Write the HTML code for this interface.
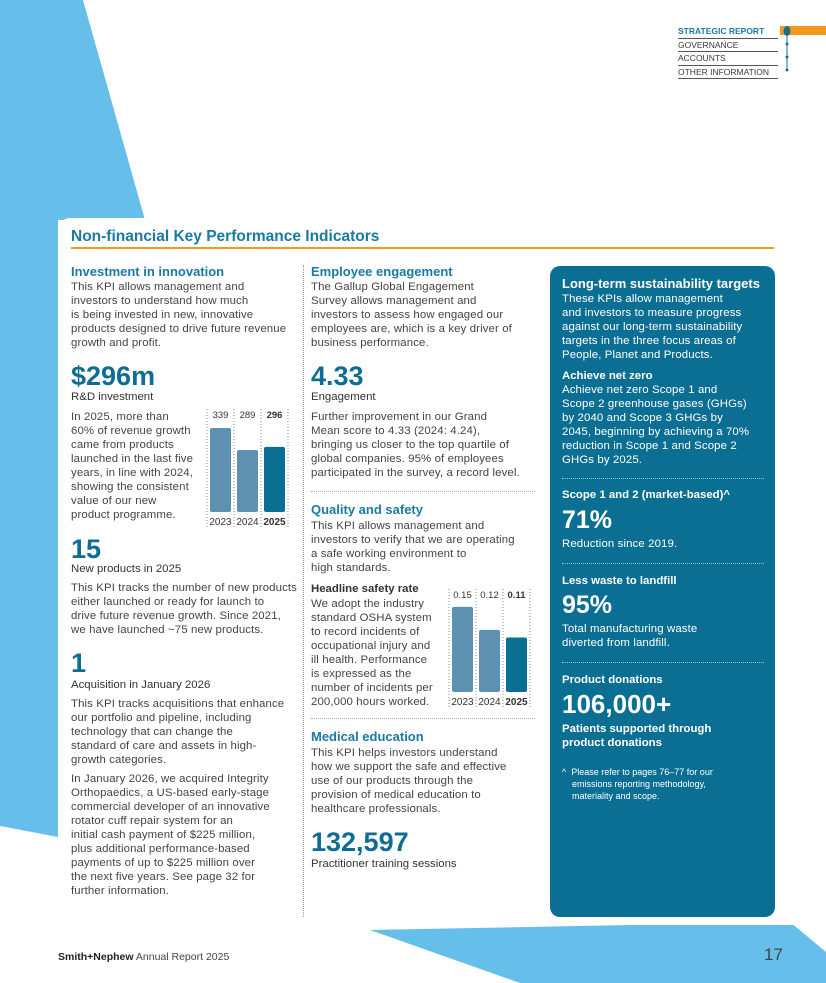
<!DOCTYPE html>
<html><head><meta charset="utf-8">
<style>
*{margin:0;padding:0;box-sizing:border-box}
body{width:826px;height:983px;position:relative;overflow:hidden;background:#fff;font-family:"Liberation Sans",sans-serif;color:#3a3a3a}
.a{position:absolute}
.h{color:#1a7aa3;font-weight:bold;font-size:13px}
.t{font-size:11.4px;line-height:14px;color:#444;letter-spacing:0.12px}
.big{color:#0e6d94;font-weight:bold;font-size:27px;line-height:28px}
.lab{font-size:11.4px;color:#333}
.wb{color:#fff;font-weight:bold;font-size:11.4px}
.dots{border-top:1px dotted #9ab}
</style></head><body>
<svg class="a" style="left:0;top:0" width="826" height="983">
<polygon points="0,0 83,0 145,220 58,220 58,837 0,826" fill="#66bfea"/>
<polygon points="370,930 790,922 826,952 826,983 520,983" fill="#66bfea"/>
<rect x="780" y="26" width="46" height="9" fill="#f39a1e"/>
<line x1="787" y1="31" x2="787" y2="70" stroke="#1a6f91" stroke-width="1"/>
<ellipse cx="787" cy="31" rx="3.5" ry="5" fill="#1a6f91"/>
<circle cx="787" cy="44" r="1.5" fill="#1a6f91"/><circle cx="787" cy="57" r="1.5" fill="#1a6f91"/><circle cx="787" cy="70" r="1.5" fill="#1a6f91"/>
</svg>
<div class="a" style="left:678px;top:25px;width:100px;font-size:8.5px;line-height:12.5px">
<div style="color:#1a7aa3;font-weight:bold;border-bottom:1px solid #555">STRATEGIC REPORT</div>
<div style="border-bottom:1px solid #555">GOVERNANCE</div>
<div style="border-bottom:1px solid #555">ACCOUNTS</div>
<div style="border-bottom:1px solid #555">OTHER INFORMATION</div>
</div>
<div class="a" style="left:58px;top:218px;width:742px;height:707px;background:#fff;border-radius:12px 12px 0 0"></div>
<div class="a" style="left:71px;top:228px;color:#1a7aa3;font-weight:bold;font-size:15.5px">Non-financial Key Performance Indicators</div>
<div class="a" style="left:71px;top:247px;width:703px;height:1.5px;background:#f39a1e"></div>
<div class="a" style="left:303px;top:265px;height:652px;border-left:1px dotted #999"></div>

<!-- column 1 -->
<div class="a h" style="left:71px;top:264px">Investment in innovation</div>
<div class="a t" style="left:71px;top:280px">This KPI allows management and<br>investors to understand how much<br>is being invested in new, innovative<br>products designed to drive future revenue<br>growth and profit.</div>
<div class="a big" style="left:71px;top:362px">$296m</div>
<div class="a lab" style="left:71px;top:391px">R&amp;D investment</div>
<div class="a t" style="left:71px;top:410px">In 2025, more than<br>60% of revenue growth<br>came from products<br>launched in the last five<br>years, in line with 2024,<br>showing the consistent<br>value of our new<br>product programme.</div>
<svg class="a" id="c1" style="left:200px;top:405px" width="100" height="125"></svg>
<div class="a big" style="left:71px;top:535px">15</div>
<div class="a lab" style="left:71px;top:563px">New products in 2025</div>
<div class="a t" style="left:71px;top:581px">This KPI tracks the number of new products<br>either launched or ready for launch to<br>drive future revenue growth. Since 2021,<br>we have launched ~75 new products.</div>
<div class="a big" style="left:71px;top:649px">1</div>
<div class="a lab" style="left:71px;top:679px">Acquisition in January 2026</div>
<div class="a t" style="left:71px;top:697px">This KPI tracks acquisitions that enhance<br>our portfolio and pipeline, including<br>technology that can change the<br>standard of care and assets in high-<br>growth categories.</div>
<div class="a t" style="left:71px;top:772px">In January 2026, we acquired Integrity<br>Orthopaedics, a US-based early-stage<br>commercial developer of an innovative<br>rotator cuff repair system for an<br>initial cash payment of $225 million,<br>plus additional performance-based<br>payments of up to $225 million over<br>the next five years. See page 32 for<br>further information.</div>

<!-- column 2 -->
<div class="a h" style="left:311px;top:264px">Employee engagement</div>
<div class="a t" style="left:311px;top:280px">The Gallup Global Engagement<br>Survey allows management and<br>investors to assess how engaged our<br>employees are, which is a key driver of<br>business performance.</div>
<div class="a big" style="left:311px;top:362px">4.33</div>
<div class="a lab" style="left:311px;top:391px">Engagement</div>
<div class="a t" style="left:311px;top:410px">Further improvement in our Grand<br>Mean score to 4.33 (2024: 4.24),<br>bringing us closer to the top quartile of<br>global companies. 95% of employees<br>participated in the survey, a record level.</div>
<div class="a dots" style="left:311px;top:491px;width:224px"></div>
<div class="a h" style="left:311px;top:502px">Quality and safety</div>
<div class="a t" style="left:311px;top:519px">This KPI allows management and<br>investors to verify that we are operating<br>a safe working environment to<br>high standards.</div>
<div class="a" style="left:311px;top:583px;font-size:11.4px;font-weight:bold;color:#333">Headline safety rate</div>
<div class="a t" style="left:311px;top:597px">We adopt the industry<br>standard OSHA system<br>to record incidents of<br>occupational injury and<br>ill health. Performance<br>is expressed as the<br>number of incidents per<br>200,000 hours worked.</div>
<svg class="a" id="c2" style="left:442px;top:585px" width="100" height="125"></svg>
<div class="a dots" style="left:311px;top:718px;width:224px"></div>
<div class="a h" style="left:311px;top:729px">Medical education</div>
<div class="a t" style="left:311px;top:746px">This KPI helps investors understand<br>how we support the safe and effective<br>use of our products through the<br>provision of medical education to<br>healthcare professionals.</div>
<div class="a big" style="left:311px;top:828px">132,597</div>
<div class="a lab" style="left:311px;top:858px">Practitioner training sessions</div>

<!-- column 3 -->
<div class="a" style="left:550px;top:266px;width:225px;height:651px;background:#0b6f93;border-radius:10px"></div>
<div class="a" style="left:562px;top:276px;color:#fff;font-weight:bold;font-size:13px">Long-term sustainability targets</div>
<div class="a t" style="left:562px;top:292px;color:#fff">These KPIs allow management<br>and investors to measure progress<br>against our long-term sustainability<br>targets in the three focus areas of<br>People, Planet and Products.</div>
<div class="a wb" style="left:562px;top:370px">Achieve net zero</div>
<div class="a t" style="left:562px;top:383px;color:#fff">Achieve net zero Scope 1 and<br>Scope 2 greenhouse gases (GHGs)<br>by 2040 and Scope 3 GHGs by<br>2045, beginning by achieving a 70%<br>reduction in Scope 1 and Scope 2<br>GHGs by 2025.</div>
<div class="a" style="left:562px;top:478px;width:202px;border-top:1px dotted #8cc"></div>
<div class="a wb" style="left:562px;top:489px">Scope 1 and 2 (market-based)^</div>
<div class="a" style="left:562px;top:506px;color:#fff;font-weight:bold;font-size:25px">71%</div>
<div class="a t" style="left:562px;top:537px;color:#fff">Reduction since 2019.</div>
<div class="a" style="left:562px;top:563px;width:202px;border-top:1px dotted #8cc"></div>
<div class="a wb" style="left:562px;top:575px">Less waste to landfill</div>
<div class="a" style="left:562px;top:591px;color:#fff;font-weight:bold;font-size:25px">95%</div>
<div class="a t" style="left:562px;top:622px;color:#fff">Total manufacturing waste<br>diverted from landfill.</div>
<div class="a" style="left:562px;top:662px;width:202px;border-top:1px dotted #8cc"></div>
<div class="a wb" style="left:562px;top:674px">Product donations</div>
<div class="a" style="left:562px;top:689px;color:#fff;font-weight:bold;font-size:26px">106,000+</div>
<div class="a" style="left:562px;top:722px;color:#fff;font-weight:bold;font-size:11.4px;line-height:14px">Patients supported through<br>product donations</div>
<div class="a" style="left:562px;top:766px;color:#fff;font-size:9px;line-height:12px">^&nbsp;&nbsp;Please refer to pages 76–77 for our<br>&nbsp;&nbsp;&nbsp;&nbsp;emissions reporting methodology,<br>&nbsp;&nbsp;&nbsp;&nbsp;materiality and scope.</div>

<div class="a" style="left:58px;top:951px;font-size:10.5px;color:#444"><b style="color:#222">Smith+Nephew</b> Annual Report 2025</div>
<div class="a" style="left:764px;top:945px;font-size:17px;color:#444">17</div>

<script>
const years1=["2023","2024","2025"];
const rdValues=[339,289,296];
const rdLabels=["339","289","296"];
const years2=["2023","2024","2025"];
const safetyValues=[0.15,0.12,0.11];
const safetyLabels=["0.15","0.12","0.11"];
const NS="http://www.w3.org/2000/svg";
function mk(t,a){const e=document.createElementNS(NS,t);for(const k in a)e.setAttribute(k,a[k]);return e;}
function draw(id,cats,vals,labs,base,scale,name){
  const svg=document.getElementById(id);
  const bottom=107,slot=27,x0=9;
  const y=v=>bottom-(v-base)*scale;
  for(let i=0;i<=cats.length;i++){
    const l=mk('line',{x1:x0+i*slot-2,x2:x0+i*slot-2,y1:4,y2:124,stroke:'#888','stroke-dasharray':'1,2'});
    
    
    svg.appendChild(l);
  }
  cats.forEach((c,i)=>{
    const last=i===cats.length-1;
    const r=mk('rect',{x:x0+i*slot+1,y:y(vals[i]),width:21,height:bottom-y(vals[i]),rx:2,fill:last?'#0b6f93':'#5e90b0'});
    
    
    svg.appendChild(r);
    const t=mk('text',{x:x0+i*slot+11.5,y:13,'text-anchor':'middle','font-size':'9.5','font-family':'Liberation Sans',fill:'#333','font-weight':last?'bold':'normal'});
    t.textContent=labs[i];
    
    
    svg.appendChild(t);
    const yt=mk('text',{x:x0+i*slot+11.5,y:120,'text-anchor':'middle','font-size':'10','font-family':'Liberation Sans',fill:'#333','font-weight':last?'bold':'normal'});
    yt.textContent=c;
    
    
    svg.appendChild(yt);
  });
}
draw('c1',years1,rdValues,rdLabels,148,0.44,'rd');
draw('c2',years2,safetyValues,safetyLabels,0.039,767,'safety');
</script>
</body></html>
